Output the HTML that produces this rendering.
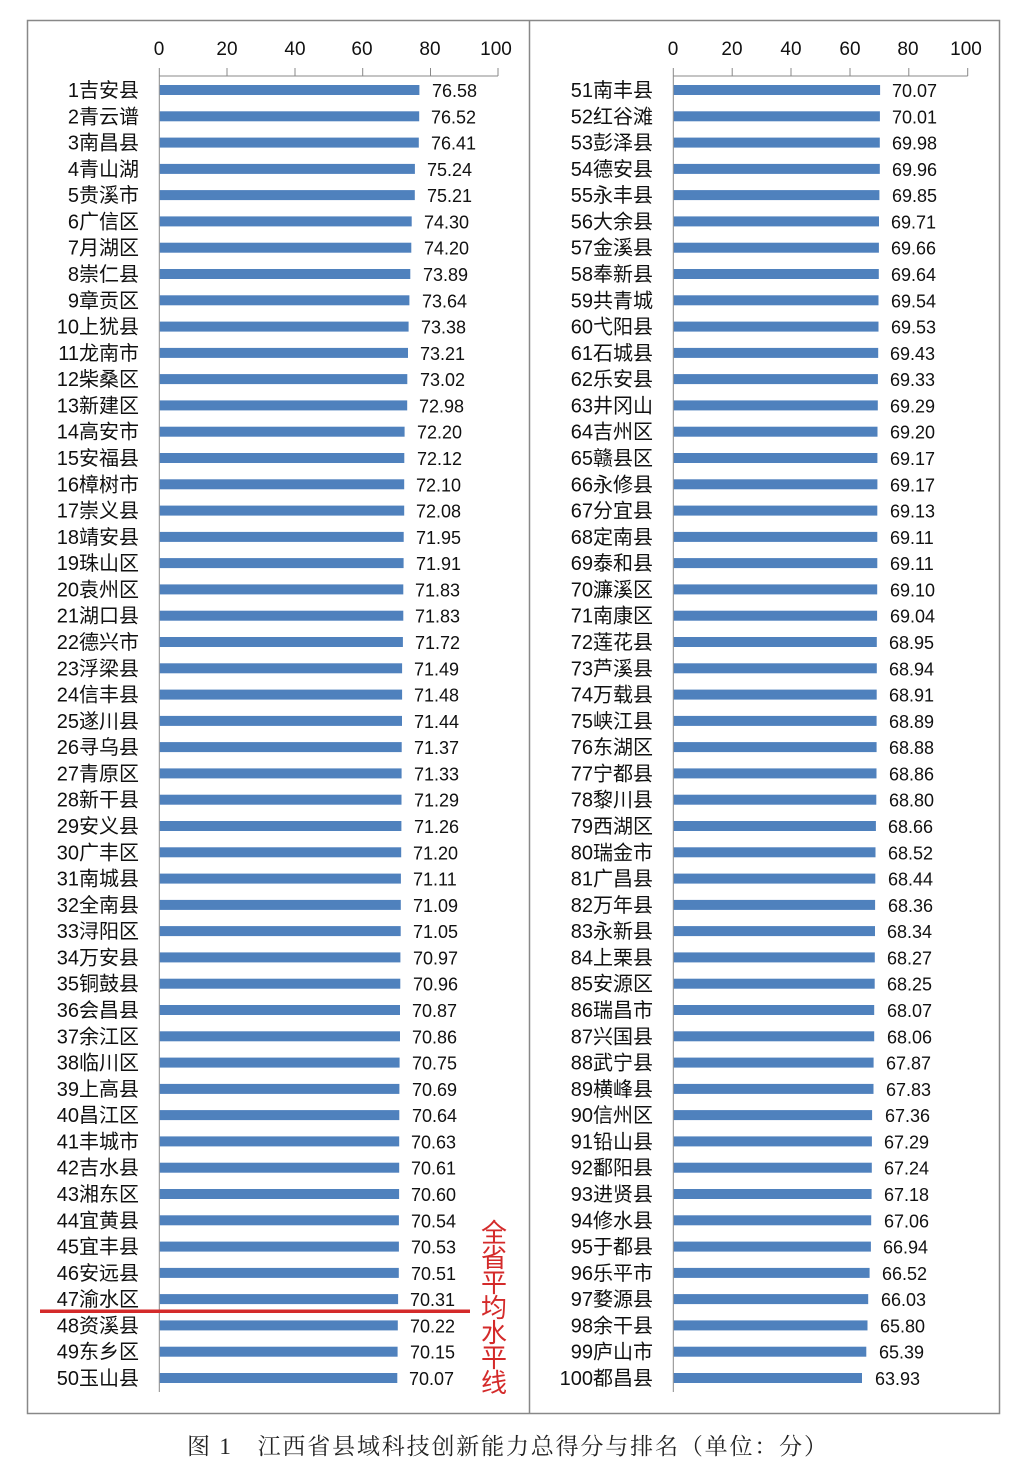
<!DOCTYPE html>
<html><head><meta charset="utf-8"><style>
html,body{margin:0;padding:0;background:#fff;}
svg{display:block;}
text{font-family:"Liberation Sans","Noto Sans CJK SC",sans-serif;fill:#111;}
.l{font-size:20px;text-anchor:end;}
.v{font-size:18px;}
.t{font-size:19px;text-anchor:middle;}
.b{fill:#4f81bd;}
</style></head><body>
<svg width="1029" height="1484" viewBox="0 0 1029 1484" xmlns="http://www.w3.org/2000/svg">
<rect x="27.5" y="20.5" width="972" height="1393" fill="none" stroke="#888" stroke-width="1.5"/>
<line x1="529.5" y1="20" x2="529.5" y2="1413" stroke="#888" stroke-width="1.5"/>
<g stroke="#888" stroke-width="1">
<line x1="159.3" y1="76" x2="498" y2="76"/>
<line x1="159.3" y1="68" x2="159.3" y2="1392"/>
<line x1="227" y1="68" x2="227" y2="76"/><line x1="295" y1="68" x2="295" y2="76"/><line x1="362.7" y1="68" x2="362.7" y2="76"/><line x1="430.5" y1="68" x2="430.5" y2="76"/><line x1="498" y1="68" x2="498" y2="76"/>
<line x1="673.3" y1="76" x2="967.7" y2="76"/>
<line x1="673.3" y1="68" x2="673.3" y2="1392"/>
<line x1="732.2" y1="68" x2="732.2" y2="76"/><line x1="791" y1="68" x2="791" y2="76"/><line x1="850" y1="68" x2="850" y2="76"/><line x1="908.8" y1="68" x2="908.8" y2="76"/><line x1="967.7" y1="68" x2="967.7" y2="76"/>
</g>
<text class="t" x="159" y="55">0</text><text class="t" x="227" y="55">20</text><text class="t" x="295" y="55">40</text><text class="t" x="362" y="55">60</text><text class="t" x="430" y="55">80</text><text class="t" x="496" y="55">100</text>
<text class="t" x="673" y="55">0</text><text class="t" x="732" y="55">20</text><text class="t" x="791" y="55">40</text><text class="t" x="850" y="55">60</text><text class="t" x="908" y="55">80</text><text class="t" x="966" y="55">100</text>
<!-- LEFT -->
<g transform="translate(0,90)"><text class="l" x="139" y="7">1吉安县</text><rect class="b" x="159.8" y="-5" width="259.6" height="10"/><text class="v" x="432" y="7">76.58</text></g>
<g transform="translate(0,116.3)"><text class="l" x="139" y="7">2青云谱</text><rect class="b" x="159.8" y="-5" width="259.4" height="10"/><text class="v" x="431" y="7">76.52</text></g>
<g transform="translate(0,142.6)"><text class="l" x="139" y="7">3南昌县</text><rect class="b" x="159.8" y="-5" width="259.0" height="10"/><text class="v" x="431" y="7">76.41</text></g>
<g transform="translate(0,168.9)"><text class="l" x="139" y="7">4青山湖</text><rect class="b" x="159.8" y="-5" width="255.1" height="10"/><text class="v" x="427" y="7">75.24</text></g>
<g transform="translate(0,195.1)"><text class="l" x="139" y="7">5贵溪市</text><rect class="b" x="159.8" y="-5" width="255.0" height="10"/><text class="v" x="427" y="7">75.21</text></g>
<g transform="translate(0,221.4)"><text class="l" x="139" y="7">6广信区</text><rect class="b" x="159.8" y="-5" width="251.9" height="10"/><text class="v" x="424" y="7">74.30</text></g>
<g transform="translate(0,247.7)"><text class="l" x="139" y="7">7月湖区</text><rect class="b" x="159.8" y="-5" width="251.5" height="10"/><text class="v" x="424" y="7">74.20</text></g>
<g transform="translate(0,274)"><text class="l" x="139" y="7">8崇仁县</text><rect class="b" x="159.8" y="-5" width="250.5" height="10"/><text class="v" x="423" y="7">73.89</text></g>
<g transform="translate(0,300.3)"><text class="l" x="139" y="7">9章贡区</text><rect class="b" x="159.8" y="-5" width="249.6" height="10"/><text class="v" x="422" y="7">73.64</text></g>
<g transform="translate(0,326.6)"><text class="l" x="139" y="7">10上犹县</text><rect class="b" x="159.8" y="-5" width="248.8" height="10"/><text class="v" x="421" y="7">73.38</text></g>
<g transform="translate(0,352.9)"><text class="l" x="139" y="7">11龙南市</text><rect class="b" x="159.8" y="-5" width="248.2" height="10"/><text class="v" x="420" y="7">73.21</text></g>
<g transform="translate(0,379.1)"><text class="l" x="139" y="7">12柴桑区</text><rect class="b" x="159.8" y="-5" width="247.5" height="10"/><text class="v" x="420" y="7">73.02</text></g>
<g transform="translate(0,405.4)"><text class="l" x="139" y="7">13新建区</text><rect class="b" x="159.8" y="-5" width="247.4" height="10"/><text class="v" x="419" y="7">72.98</text></g>
<g transform="translate(0,431.7)"><text class="l" x="139" y="7">14高安市</text><rect class="b" x="159.8" y="-5" width="244.8" height="10"/><text class="v" x="417" y="7">72.20</text></g>
<g transform="translate(0,458)"><text class="l" x="139" y="7">15安福县</text><rect class="b" x="159.8" y="-5" width="244.5" height="10"/><text class="v" x="417" y="7">72.12</text></g>
<g transform="translate(0,484.3)"><text class="l" x="139" y="7">16樟树市</text><rect class="b" x="159.8" y="-5" width="244.4" height="10"/><text class="v" x="416" y="7">72.10</text></g>
<g transform="translate(0,510.6)"><text class="l" x="139" y="7">17崇义县</text><rect class="b" x="159.8" y="-5" width="244.4" height="10"/><text class="v" x="416" y="7">72.08</text></g>
<g transform="translate(0,536.9)"><text class="l" x="139" y="7">18靖安县</text><rect class="b" x="159.8" y="-5" width="243.9" height="10"/><text class="v" x="416" y="7">71.95</text></g>
<g transform="translate(0,563.1)"><text class="l" x="139" y="7">19珠山区</text><rect class="b" x="159.8" y="-5" width="243.8" height="10"/><text class="v" x="416" y="7">71.91</text></g>
<g transform="translate(0,589.4)"><text class="l" x="139" y="7">20袁州区</text><rect class="b" x="159.8" y="-5" width="243.5" height="10"/><text class="v" x="415" y="7">71.83</text></g>
<g transform="translate(0,615.7)"><text class="l" x="139" y="7">21湖口县</text><rect class="b" x="159.8" y="-5" width="243.5" height="10"/><text class="v" x="415" y="7">71.83</text></g>
<g transform="translate(0,642)"><text class="l" x="139" y="7">22德兴市</text><rect class="b" x="159.8" y="-5" width="243.1" height="10"/><text class="v" x="415" y="7">71.72</text></g>
<g transform="translate(0,668.3)"><text class="l" x="139" y="7">23浮梁县</text><rect class="b" x="159.8" y="-5" width="242.3" height="10"/><text class="v" x="414" y="7">71.49</text></g>
<g transform="translate(0,694.6)"><text class="l" x="139" y="7">24信丰县</text><rect class="b" x="159.8" y="-5" width="242.3" height="10"/><text class="v" x="414" y="7">71.48</text></g>
<g transform="translate(0,720.9)"><text class="l" x="139" y="7">25遂川县</text><rect class="b" x="159.8" y="-5" width="242.2" height="10"/><text class="v" x="414" y="7">71.44</text></g>
<g transform="translate(0,747.1)"><text class="l" x="139" y="7">26寻乌县</text><rect class="b" x="159.8" y="-5" width="241.9" height="10"/><text class="v" x="414" y="7">71.37</text></g>
<g transform="translate(0,773.4)"><text class="l" x="139" y="7">27青原区</text><rect class="b" x="159.8" y="-5" width="241.8" height="10"/><text class="v" x="414" y="7">71.33</text></g>
<g transform="translate(0,799.7)"><text class="l" x="139" y="7">28新干县</text><rect class="b" x="159.8" y="-5" width="241.7" height="10"/><text class="v" x="414" y="7">71.29</text></g>
<g transform="translate(0,826)"><text class="l" x="139" y="7">29安义县</text><rect class="b" x="159.8" y="-5" width="241.6" height="10"/><text class="v" x="414" y="7">71.26</text></g>
<g transform="translate(0,852.3)"><text class="l" x="139" y="7">30广丰区</text><rect class="b" x="159.8" y="-5" width="241.4" height="10"/><text class="v" x="413" y="7">71.20</text></g>
<g transform="translate(0,878.6)"><text class="l" x="139" y="7">31南城县</text><rect class="b" x="159.8" y="-5" width="241.1" height="10"/><text class="v" x="413" y="7">71.11</text></g>
<g transform="translate(0,904.9)"><text class="l" x="139" y="7">32全南县</text><rect class="b" x="159.8" y="-5" width="241.0" height="10"/><text class="v" x="413" y="7">71.09</text></g>
<g transform="translate(0,931.1)"><text class="l" x="139" y="7">33浔阳区</text><rect class="b" x="159.8" y="-5" width="240.9" height="10"/><text class="v" x="413" y="7">71.05</text></g>
<g transform="translate(0,957.4)"><text class="l" x="139" y="7">34万安县</text><rect class="b" x="159.8" y="-5" width="240.6" height="10"/><text class="v" x="413" y="7">70.97</text></g>
<g transform="translate(0,983.7)"><text class="l" x="139" y="7">35铜鼓县</text><rect class="b" x="159.8" y="-5" width="240.5" height="10"/><text class="v" x="413" y="7">70.96</text></g>
<g transform="translate(0,1010)"><text class="l" x="139" y="7">36会昌县</text><rect class="b" x="159.8" y="-5" width="240.2" height="10"/><text class="v" x="412" y="7">70.87</text></g>
<g transform="translate(0,1036.3)"><text class="l" x="139" y="7">37余江区</text><rect class="b" x="159.8" y="-5" width="240.2" height="10"/><text class="v" x="412" y="7">70.86</text></g>
<g transform="translate(0,1062.6)"><text class="l" x="139" y="7">38临川区</text><rect class="b" x="159.8" y="-5" width="239.8" height="10"/><text class="v" x="412" y="7">70.75</text></g>
<g transform="translate(0,1088.9)"><text class="l" x="139" y="7">39上高县</text><rect class="b" x="159.8" y="-5" width="239.6" height="10"/><text class="v" x="412" y="7">70.69</text></g>
<g transform="translate(0,1115.1)"><text class="l" x="139" y="7">40昌江区</text><rect class="b" x="159.8" y="-5" width="239.5" height="10"/><text class="v" x="412" y="7">70.64</text></g>
<g transform="translate(0,1141.4)"><text class="l" x="139" y="7">41丰城市</text><rect class="b" x="159.8" y="-5" width="239.4" height="10"/><text class="v" x="411" y="7">70.63</text></g>
<g transform="translate(0,1167.7)"><text class="l" x="139" y="7">42吉水县</text><rect class="b" x="159.8" y="-5" width="239.4" height="10"/><text class="v" x="411" y="7">70.61</text></g>
<g transform="translate(0,1194)"><text class="l" x="139" y="7">43湘东区</text><rect class="b" x="159.8" y="-5" width="239.3" height="10"/><text class="v" x="411" y="7">70.60</text></g>
<g transform="translate(0,1220.3)"><text class="l" x="139" y="7">44宜黄县</text><rect class="b" x="159.8" y="-5" width="239.1" height="10"/><text class="v" x="411" y="7">70.54</text></g>
<g transform="translate(0,1246.6)"><text class="l" x="139" y="7">45宜丰县</text><rect class="b" x="159.8" y="-5" width="239.1" height="10"/><text class="v" x="411" y="7">70.53</text></g>
<g transform="translate(0,1272.9)"><text class="l" x="139" y="7">46安远县</text><rect class="b" x="159.8" y="-5" width="239.0" height="10"/><text class="v" x="411" y="7">70.51</text></g>
<g transform="translate(0,1299.1)"><text class="l" x="139" y="7">47渝水区</text><rect class="b" x="159.8" y="-5" width="238.3" height="10"/><text class="v" x="410" y="7">70.31</text></g>
<g transform="translate(0,1325.4)"><text class="l" x="139" y="7">48资溪县</text><rect class="b" x="159.8" y="-5" width="238.0" height="10"/><text class="v" x="410" y="7">70.22</text></g>
<g transform="translate(0,1351.7)"><text class="l" x="139" y="7">49东乡区</text><rect class="b" x="159.8" y="-5" width="237.8" height="10"/><text class="v" x="410" y="7">70.15</text></g>
<g transform="translate(0,1378)"><text class="l" x="139" y="7">50玉山县</text><rect class="b" x="159.8" y="-5" width="237.5" height="10"/><text class="v" x="409" y="7">70.07</text></g>
<rect x="40" y="1309.5" width="430" height="3.5" fill="#d42a2a"/>
<g style="font-family:'Noto Sans CJK SC',sans-serif;font-size:26px" text-anchor="middle">
<text x="494" y="1242" style="fill:#d42a2a">全</text>
<text x="494" y="1267" style="fill:#d42a2a">省</text>
<text x="494" y="1292" style="fill:#d42a2a">平</text>
<text x="494" y="1317" style="fill:#d42a2a">均</text>
<text x="494" y="1342" style="fill:#d42a2a">水</text>
<text x="494" y="1367" style="fill:#d42a2a">平</text>
<text x="494" y="1392" style="fill:#d42a2a">线</text>
</g>
<!-- RIGHT -->
<g transform="translate(0,90)"><text class="l" x="653" y="7">51南丰县</text><rect class="b" x="673.8" y="-5" width="206.3" height="10"/><text class="v" x="892" y="7">70.07</text></g>
<g transform="translate(0,116.3)"><text class="l" x="653" y="7">52红谷滩</text><rect class="b" x="673.8" y="-5" width="206.1" height="10"/><text class="v" x="892" y="7">70.01</text></g>
<g transform="translate(0,142.6)"><text class="l" x="653" y="7">53彭泽县</text><rect class="b" x="673.8" y="-5" width="206.0" height="10"/><text class="v" x="892" y="7">69.98</text></g>
<g transform="translate(0,168.9)"><text class="l" x="653" y="7">54德安县</text><rect class="b" x="673.8" y="-5" width="206.0" height="10"/><text class="v" x="892" y="7">69.96</text></g>
<g transform="translate(0,195.1)"><text class="l" x="653" y="7">55永丰县</text><rect class="b" x="673.8" y="-5" width="205.6" height="10"/><text class="v" x="892" y="7">69.85</text></g>
<g transform="translate(0,221.4)"><text class="l" x="653" y="7">56大余县</text><rect class="b" x="673.8" y="-5" width="205.2" height="10"/><text class="v" x="891" y="7">69.71</text></g>
<g transform="translate(0,247.7)"><text class="l" x="653" y="7">57金溪县</text><rect class="b" x="673.8" y="-5" width="205.1" height="10"/><text class="v" x="891" y="7">69.66</text></g>
<g transform="translate(0,274)"><text class="l" x="653" y="7">58奉新县</text><rect class="b" x="673.8" y="-5" width="205.0" height="10"/><text class="v" x="891" y="7">69.64</text></g>
<g transform="translate(0,300.3)"><text class="l" x="653" y="7">59共青城</text><rect class="b" x="673.8" y="-5" width="204.7" height="10"/><text class="v" x="891" y="7">69.54</text></g>
<g transform="translate(0,326.6)"><text class="l" x="653" y="7">60弋阳县</text><rect class="b" x="673.8" y="-5" width="204.7" height="10"/><text class="v" x="891" y="7">69.53</text></g>
<g transform="translate(0,352.9)"><text class="l" x="653" y="7">61石城县</text><rect class="b" x="673.8" y="-5" width="204.4" height="10"/><text class="v" x="890" y="7">69.43</text></g>
<g transform="translate(0,379.1)"><text class="l" x="653" y="7">62乐安县</text><rect class="b" x="673.8" y="-5" width="204.1" height="10"/><text class="v" x="890" y="7">69.33</text></g>
<g transform="translate(0,405.4)"><text class="l" x="653" y="7">63井冈山</text><rect class="b" x="673.8" y="-5" width="204.0" height="10"/><text class="v" x="890" y="7">69.29</text></g>
<g transform="translate(0,431.7)"><text class="l" x="653" y="7">64吉州区</text><rect class="b" x="673.8" y="-5" width="203.7" height="10"/><text class="v" x="890" y="7">69.20</text></g>
<g transform="translate(0,458)"><text class="l" x="653" y="7">65赣县区</text><rect class="b" x="673.8" y="-5" width="203.6" height="10"/><text class="v" x="890" y="7">69.17</text></g>
<g transform="translate(0,484.3)"><text class="l" x="653" y="7">66永修县</text><rect class="b" x="673.8" y="-5" width="203.6" height="10"/><text class="v" x="890" y="7">69.17</text></g>
<g transform="translate(0,510.6)"><text class="l" x="653" y="7">67分宜县</text><rect class="b" x="673.8" y="-5" width="203.5" height="10"/><text class="v" x="890" y="7">69.13</text></g>
<g transform="translate(0,536.9)"><text class="l" x="653" y="7">68定南县</text><rect class="b" x="673.8" y="-5" width="203.5" height="10"/><text class="v" x="890" y="7">69.11</text></g>
<g transform="translate(0,563.1)"><text class="l" x="653" y="7">69泰和县</text><rect class="b" x="673.8" y="-5" width="203.5" height="10"/><text class="v" x="890" y="7">69.11</text></g>
<g transform="translate(0,589.4)"><text class="l" x="653" y="7">70濂溪区</text><rect class="b" x="673.8" y="-5" width="203.4" height="10"/><text class="v" x="890" y="7">69.10</text></g>
<g transform="translate(0,615.7)"><text class="l" x="653" y="7">71南康区</text><rect class="b" x="673.8" y="-5" width="203.3" height="10"/><text class="v" x="890" y="7">69.04</text></g>
<g transform="translate(0,642)"><text class="l" x="653" y="7">72莲花县</text><rect class="b" x="673.8" y="-5" width="203.0" height="10"/><text class="v" x="889" y="7">68.95</text></g>
<g transform="translate(0,668.3)"><text class="l" x="653" y="7">73芦溪县</text><rect class="b" x="673.8" y="-5" width="203.0" height="10"/><text class="v" x="889" y="7">68.94</text></g>
<g transform="translate(0,694.6)"><text class="l" x="653" y="7">74万载县</text><rect class="b" x="673.8" y="-5" width="202.9" height="10"/><text class="v" x="889" y="7">68.91</text></g>
<g transform="translate(0,720.9)"><text class="l" x="653" y="7">75峡江县</text><rect class="b" x="673.8" y="-5" width="202.8" height="10"/><text class="v" x="889" y="7">68.89</text></g>
<g transform="translate(0,747.1)"><text class="l" x="653" y="7">76东湖区</text><rect class="b" x="673.8" y="-5" width="202.8" height="10"/><text class="v" x="889" y="7">68.88</text></g>
<g transform="translate(0,773.4)"><text class="l" x="653" y="7">77宁都县</text><rect class="b" x="673.8" y="-5" width="202.7" height="10"/><text class="v" x="889" y="7">68.86</text></g>
<g transform="translate(0,799.7)"><text class="l" x="653" y="7">78黎川县</text><rect class="b" x="673.8" y="-5" width="202.5" height="10"/><text class="v" x="889" y="7">68.80</text></g>
<g transform="translate(0,826)"><text class="l" x="653" y="7">79西湖区</text><rect class="b" x="673.8" y="-5" width="202.1" height="10"/><text class="v" x="888" y="7">68.66</text></g>
<g transform="translate(0,852.3)"><text class="l" x="653" y="7">80瑞金市</text><rect class="b" x="673.8" y="-5" width="201.7" height="10"/><text class="v" x="888" y="7">68.52</text></g>
<g transform="translate(0,878.6)"><text class="l" x="653" y="7">81广昌县</text><rect class="b" x="673.8" y="-5" width="201.5" height="10"/><text class="v" x="888" y="7">68.44</text></g>
<g transform="translate(0,904.9)"><text class="l" x="653" y="7">82万年县</text><rect class="b" x="673.8" y="-5" width="201.3" height="10"/><text class="v" x="888" y="7">68.36</text></g>
<g transform="translate(0,931.1)"><text class="l" x="653" y="7">83永新县</text><rect class="b" x="673.8" y="-5" width="201.2" height="10"/><text class="v" x="887" y="7">68.34</text></g>
<g transform="translate(0,957.4)"><text class="l" x="653" y="7">84上栗县</text><rect class="b" x="673.8" y="-5" width="201.0" height="10"/><text class="v" x="887" y="7">68.27</text></g>
<g transform="translate(0,983.7)"><text class="l" x="653" y="7">85安源区</text><rect class="b" x="673.8" y="-5" width="200.9" height="10"/><text class="v" x="887" y="7">68.25</text></g>
<g transform="translate(0,1010)"><text class="l" x="653" y="7">86瑞昌市</text><rect class="b" x="673.8" y="-5" width="200.4" height="10"/><text class="v" x="887" y="7">68.07</text></g>
<g transform="translate(0,1036.3)"><text class="l" x="653" y="7">87兴国县</text><rect class="b" x="673.8" y="-5" width="200.4" height="10"/><text class="v" x="887" y="7">68.06</text></g>
<g transform="translate(0,1062.6)"><text class="l" x="653" y="7">88武宁县</text><rect class="b" x="673.8" y="-5" width="199.8" height="10"/><text class="v" x="886" y="7">67.87</text></g>
<g transform="translate(0,1088.9)"><text class="l" x="653" y="7">89横峰县</text><rect class="b" x="673.8" y="-5" width="199.7" height="10"/><text class="v" x="886" y="7">67.83</text></g>
<g transform="translate(0,1115.1)"><text class="l" x="653" y="7">90信州区</text><rect class="b" x="673.8" y="-5" width="198.3" height="10"/><text class="v" x="885" y="7">67.36</text></g>
<g transform="translate(0,1141.4)"><text class="l" x="653" y="7">91铅山县</text><rect class="b" x="673.8" y="-5" width="198.1" height="10"/><text class="v" x="884" y="7">67.29</text></g>
<g transform="translate(0,1167.7)"><text class="l" x="653" y="7">92鄱阳县</text><rect class="b" x="673.8" y="-5" width="198.0" height="10"/><text class="v" x="884" y="7">67.24</text></g>
<g transform="translate(0,1194)"><text class="l" x="653" y="7">93进贤县</text><rect class="b" x="673.8" y="-5" width="197.8" height="10"/><text class="v" x="884" y="7">67.18</text></g>
<g transform="translate(0,1220.3)"><text class="l" x="653" y="7">94修水县</text><rect class="b" x="673.8" y="-5" width="197.4" height="10"/><text class="v" x="884" y="7">67.06</text></g>
<g transform="translate(0,1246.6)"><text class="l" x="653" y="7">95于都县</text><rect class="b" x="673.8" y="-5" width="197.1" height="10"/><text class="v" x="883" y="7">66.94</text></g>
<g transform="translate(0,1272.9)"><text class="l" x="653" y="7">96乐平市</text><rect class="b" x="673.8" y="-5" width="195.8" height="10"/><text class="v" x="882" y="7">66.52</text></g>
<g transform="translate(0,1299.1)"><text class="l" x="653" y="7">97婺源县</text><rect class="b" x="673.8" y="-5" width="194.4" height="10"/><text class="v" x="881" y="7">66.03</text></g>
<g transform="translate(0,1325.4)"><text class="l" x="653" y="7">98余干县</text><rect class="b" x="673.8" y="-5" width="193.7" height="10"/><text class="v" x="880" y="7">65.80</text></g>
<g transform="translate(0,1351.7)"><text class="l" x="653" y="7">99庐山市</text><rect class="b" x="673.8" y="-5" width="192.5" height="10"/><text class="v" x="879" y="7">65.39</text></g>
<g transform="translate(0,1378)"><text class="l" x="653" y="7">100都昌县</text><rect class="b" x="673.8" y="-5" width="188.2" height="10"/><text class="v" x="875" y="7">63.93</text></g>
<text x="187" y="1454" textLength="640" lengthAdjust="spacing" style="font-family:'Liberation Serif','Noto Serif CJK SC',serif;font-size:23px;fill:#222">图 1　江西省县域科技创新能力总得分与排名（单位：分）</text>
</svg>
</body></html>
